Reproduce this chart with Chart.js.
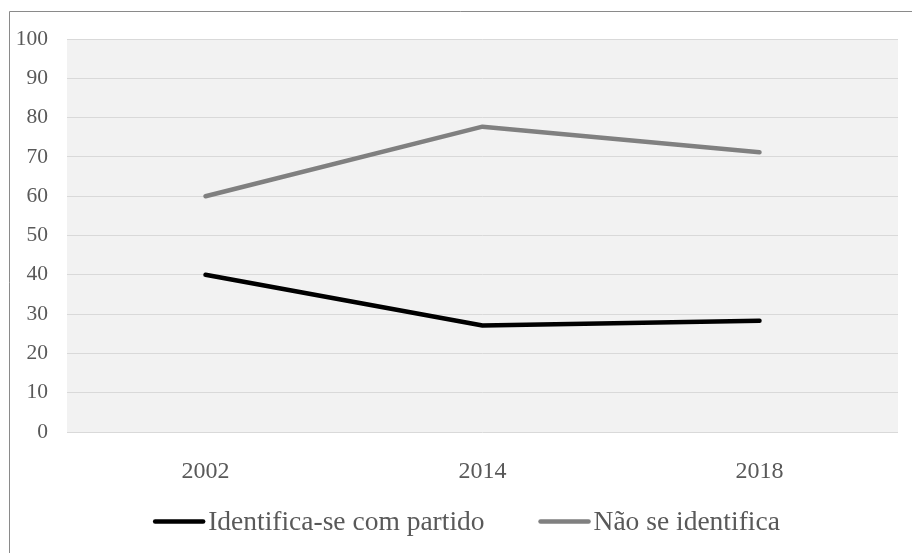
<!DOCTYPE html>
<html>
<head>
<meta charset="utf-8">
<script src="https://cdn.jsdelivr.net/npm/chart.js@4/dist/chart.umd.min.js"></script>
<style>
  html, body { margin: 0; padding: 0; background: #fff; }
  canvas { display: block; }
</style>
</head>
<body>
<canvas id="grafico" width="912" height="553"></canvas>
<script>
const anos = ['2002', '2014', '2018'];
const identifica = [40, 27.1, 28.3];
const naoIdentifica = [60, 77.7, 71.2];
const rotulos = ['Identifica-se com partido', 'Não se identifica'];
const cores = ['#000000', '#808080'];

const fonte = '"Liberation Serif", "Times New Roman", serif';
const cinzaTexto = '#595959';

// fundo cinza da área de plotagem e moldura externa
const fundo = {
  id: 'fundo',
  beforeDraw(chart) {
    const { ctx, chartArea: a } = chart;
    ctx.save();
    ctx.fillStyle = '#f2f2f2';
    ctx.fillRect(a.left, a.top, a.right - a.left, a.bottom - a.top);
    ctx.strokeStyle = '#8a8a8a';
    ctx.lineWidth = 1;
    ctx.beginPath();
    ctx.moveTo(9.5, chart.height);
    ctx.lineTo(9.5, 11.5);
    ctx.lineTo(chart.width, 11.5);
    ctx.stroke();
    ctx.restore();
  }
};

// legenda estilo Excel: traço colado ao texto
const legenda = {
  id: 'legenda',
  afterDraw(chart) {
    const ctx = chart.ctx;
    const traco = 52, folga = 3, entre = 54;
    ctx.save();
    ctx.font = '27.5px ' + fonte;
    const itens = chart.data.datasets.map(ds => ({ ds, w: ctx.measureText(ds.label).width }));
    const total = itens.reduce((s, it) => s + traco + folga + it.w, 0) + entre * (itens.length - 1);
    let x = 466.5 - total / 2;
    const y = 521.5;
    itens.forEach(({ ds, w }) => {
      ctx.strokeStyle = ds.borderColor;
      ctx.lineWidth = 4.5;
      ctx.lineCap = 'round';
      ctx.beginPath();
      ctx.moveTo(x + 2, y);
      ctx.lineTo(x + traco - 2, y);
      ctx.stroke();
      ctx.fillStyle = cinzaTexto;
      ctx.textBaseline = 'alphabetic';
      ctx.fillText(ds.label, x + traco + folga, 530);
      x += traco + folga + w + entre;
    });
    ctx.restore();
  }
};

new Chart(document.getElementById('grafico'), {
  type: 'line',
  data: {
    labels: anos,
    datasets: [
      { label: rotulos[0], data: identifica, borderColor: cores[0], backgroundColor: cores[0] },
      { label: rotulos[1], data: naoIdentifica, borderColor: cores[1], backgroundColor: cores[1] }
    ]
  },
  options: {
    responsive: false,
    animation: false,
    layout: { padding: { top: 39, right: 14, left: 0, bottom: 0 } },
    elements: {
      line: { borderWidth: 4.5, tension: 0, borderCapStyle: 'round', borderJoinStyle: 'round' },
      point: { radius: 0, hoverRadius: 0 }
    },
    plugins: { legend: { display: false }, tooltip: { enabled: false } },
    scales: {
      x: {
        offset: true,
        grid: { display: false },
        border: { display: false },
        ticks: { font: { family: fonte, size: 24 }, color: cinzaTexto, padding: 17 },
        afterFit(s) { s.height = 121; }
      },
      y: {
        min: 0,
        max: 100,
        ticks: { stepSize: 10, font: { family: fonte, size: 21.5 }, color: cinzaTexto, padding: 19 },
        grid: { color: '#d9d9d9', lineWidth: 1, drawTicks: false },
        border: { display: false },
        afterFit(s) { s.width = 67; }
      }
    }
  },
  plugins: [fundo, legenda]
});
</script>
</body>
</html>
